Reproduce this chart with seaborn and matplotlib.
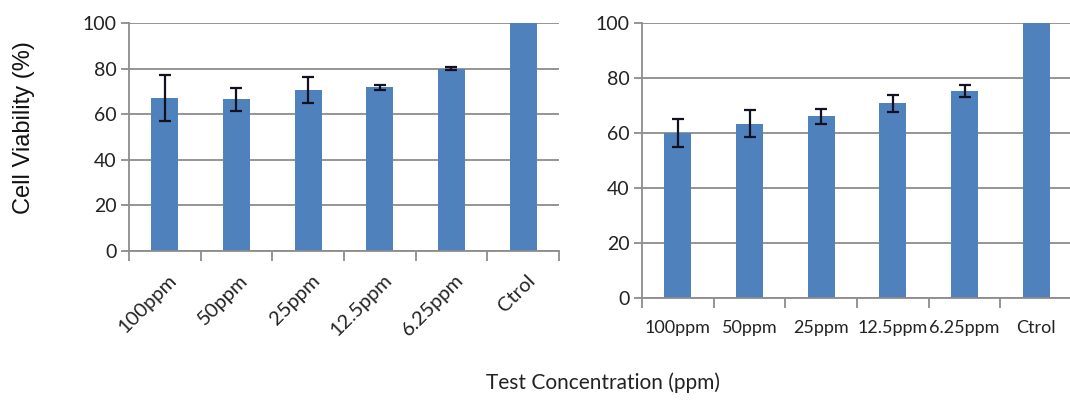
import matplotlib
matplotlib.use("Agg")
import matplotlib.pyplot as plt
import matplotlib.transforms as mtransforms
from matplotlib.ticker import FixedLocator
import seaborn as sns
import pandas as pd
import numpy as np

categories = ["100ppm", "50ppm", "25ppm", "12.5ppm", "6.25ppm", "Ctrol"]
left_values = [67.0, 66.5, 70.5, 71.8, 80.0, 100.0]
left_errors = [10.0, 5.2, 5.6, 1.0, 0.5, 0.0]
right_values = [60.0, 63.4, 66.1, 70.8, 75.4, 100.0]
right_errors = [5.2, 4.9, 2.7, 3.2, 2.2, 0.0]
y_ticks = [0, 20, 40, 60, 80, 100]

BAR = "#4F81BD"
GRID = "#8c8c8c"
TXT = "#222222"

sns.set_theme(style="white")
plt.rcParams['font.family'] = ['Lato', 'DejaVu Sans']

W, H = 1070, 403
fig = plt.figure(figsize=(W / 100, H / 100), dpi=100)
ax1 = fig.add_axes([129 / W, 1 - 251 / H, 430 / W, 228 / H])
ax2 = fig.add_axes([642 / W, 1 - 298 / H, 430 / W, 275 / H])


def draw(ax, values, errors, rotate):
    df = pd.DataFrame({"category": categories, "value": values})
    sns.barplot(data=df, x="category", y="value", color=BAR, width=0.38,
                saturation=1, errorbar=None, linewidth=0, ax=ax)
    xs = [i for i, e in enumerate(errors) if e > 0]
    ax.errorbar(xs, [values[i] for i in xs], yerr=[errors[i] for i in xs],
                fmt="none", ecolor="#111122", elinewidth=1.6, capsize=4,
                capthick=1.6, zorder=5)
    ax.set_xlim(-0.5, len(categories) - 0.5)
    ax.set_ylim(0, 100)
    ax.set_yticks(y_ticks)
    ax.set_xlabel("")
    ax.set_ylabel("")
    ax.set_axisbelow(True)
    ax.yaxis.grid(True, color=GRID, lw=1.3)
    ax.xaxis.grid(False)
    for s in ["top", "right"]:
        ax.spines[s].set_visible(False)
    for s in ["left", "bottom"]:
        ax.spines[s].set_color(GRID)
        ax.spines[s].set_linewidth(1.3)
    ax.tick_params(axis="y", direction="out", length=6, width=1.3, color=GRID,
                   labelsize=14, labelcolor=TXT, pad=3, left=True)
    ax.xaxis.set_minor_locator(FixedLocator(np.arange(-0.5, len(categories), 1.0)))
    ax.tick_params(axis="x", which="minor", direction="out", length=7, width=1.3,
                   color=GRID, bottom=True)
    if rotate:
        ax.tick_params(axis="x", which="major", length=0, labelsize=14.5,
                       labelcolor=TXT, pad=19)
        off = mtransforms.ScaledTranslation(9 / 100, 0, fig.dpi_scale_trans)
        for lab in ax.get_xticklabels():
            lab.set_rotation(45)
            lab.set_ha("right")
            lab.set_va("center")
            lab.set_rotation_mode("anchor")
            lab.set_transform(lab.get_transform() + off)
    else:
        ax.tick_params(axis="x", which="major", length=0, labelsize=13,
                       labelcolor=TXT, pad=16)


draw(ax1, left_values, left_errors, True)
draw(ax2, right_values, right_errors, False)

fig.text(24 / W, 1 - 128 / H, "Cell Viability (%)", rotation=90, ha="center",
         va="center", fontsize=17, color="#111111",
         family=["Liberation Sans", "DejaVu Sans"])
fig.text(603 / W, 1 - 383 / H, "Test Concentration (ppm)", ha="center",
         va="center", fontsize=15, color=TXT)

fig.savefig("out.png", dpi=100)
